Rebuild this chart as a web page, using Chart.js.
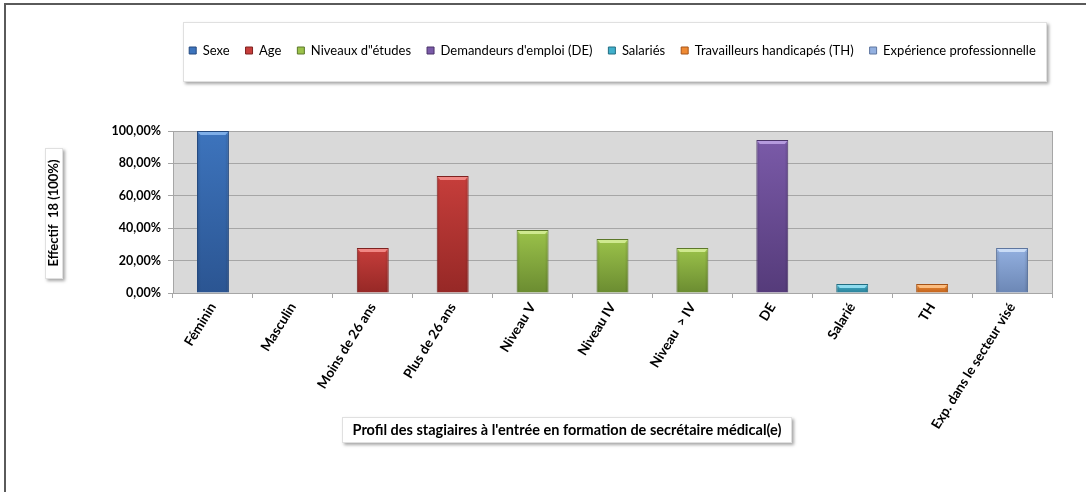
<!DOCTYPE html>
<html>
<head>
<meta charset="utf-8">
<script src="https://cdn.jsdelivr.net/npm/chart.js@4/dist/chart.umd.min.js"></script>
<style>
html,body{margin:0;padding:0;background:#fff;}
#wrap{width:1086px;height:492px;position:relative;}
</style>
</head>
<body>
<div id="wrap"><canvas id="c" width="1086" height="492"></canvas></div>
<script>
// ---- data ----
const categories = ["Féminin","Masculin","Moins de 26 ans","Plus de 26 ans","Niveau V","Niveau IV","Niveau  > IV","DE","Salarié","TH","Exp. dans le secteur visé"];
const seriesNames = ["Sexe","Age","Niveaux d\"études","Demandeurs d'emploi (DE)","Salariés","Travailleurs handicapés (TH)","Expérience professionnelle"];
const sexe       = [100, 0, null, null, null, null, null, null, null, null, null];
const age        = [null, null, 27.78, 72.22, null, null, null, null, null, null, null];
const niveaux    = [null, null, null, null, 38.89, 33.33, 27.78, null, null, null, null];
const demandeurs = [null, null, null, null, null, null, null, 94.44, null, null, null];
const salaries   = [null, null, null, null, null, null, null, null, 5.56, null, null];
const travailleurs = [null, null, null, null, null, null, null, null, null, 5.56, null];
const experience = [null, null, null, null, null, null, null, null, null, null, 27.78];
const yTicks = [0, 20, 40, 60, 80, 100];
const yTitle = "Effectif  18 (100%)";
const xTitle = "Profil des stagiaires à l'entrée en formation de secrétaire médical(e)";

// ---- styles ----
const palette = [
  {base:'#3d74bd', dark:'#2b5592', edge:'#24497e', light:'#7eaee8'},
  {base:'#c63e3b', dark:'#962826', edge:'#7e2220', light:'#f08784'},
  {base:'#9bc24a', dark:'#6b8c31', edge:'#5c782a', light:'#cfe98f'},
  {base:'#7a5aa8', dark:'#553b7a', edge:'#4a3369', light:'#b59ade'},
  {base:'#40b0cc', dark:'#2a7f96', edge:'#236e82', light:'#8fdcef'},
  {base:'#ef8a33', dark:'#c0621c', edge:'#a65418', light:'#fbbd80'},
  {base:'#93b0e0', dark:'#6c87b5', edge:'#5e769f', light:'#cadcf6'}
];
const FONT = 'Lato, "Open Sans", sans-serif';
const seriesData = [sexe, age, niveaux, demandeurs, salaries, travailleurs, experience];

function barFill(i){
  return function(ctx){
    const ch = ctx.chart, ca = ch.chartArea;
    const ys = ch.scales && ch.scales.y;
    if(!ca || !ys || ctx.raw === null || ctx.raw === undefined) return palette[i].base;
    const top = ys.getPixelForValue(ctx.raw);
    const bot = ys.getPixelForValue(0);
    if(!isFinite(top) || !isFinite(bot) || bot - top < 1) return palette[i].base;
    const g = ch.ctx.createLinearGradient(0, top, 0, bot);
    g.addColorStop(0, palette[i].base);
    g.addColorStop(1, palette[i].dark);
    return g;
  };
}

const datasets = seriesData.map((d, i) => ({
  label: seriesNames[i],
  data: d,
  backgroundColor: barFill(i),
  borderColor: palette[i].edge,
  borderWidth: 1,
  barPercentage: 0.4,
  categoryPercentage: 1.0,
  grouped: false
}));

const decor = {
  id: 'decor',
  beforeLayout(chart){
    const lg = chart.legend;
    if(lg && !lg._patched){
      const orig = lg.fit.bind(lg);
      lg.fit = function(){ orig(); this.height = 103; };
      lg._patched = true;
    }
  },
  beforeDraw(chart){
    const ctx = chart.ctx, ca = chart.chartArea;
    ctx.save();
    ctx.fillStyle = '#fff';
    ctx.fillRect(0,0,chart.width,chart.height);
    // outer frame
    ctx.strokeStyle = '#5a5a5a';
    ctx.lineWidth = 2;
    ctx.beginPath();
    ctx.moveTo(5, 492); ctx.lineTo(5, 4); ctx.lineTo(1086, 4);
    ctx.stroke();
    // boxes with shadows
    function shadowBox(x,y,w,h){
      ctx.save();
      ctx.shadowColor = 'rgba(0,0,0,0.35)';
      ctx.shadowOffsetX = 2; ctx.shadowOffsetY = 2; ctx.shadowBlur = 3;
      ctx.fillStyle = '#fff';
      ctx.fillRect(x,y,w,h);
      ctx.restore();
      ctx.strokeStyle = '#e0e0e0';
      ctx.lineWidth = 1;
      ctx.strokeRect(x+0.5,y+0.5,w-1,h-1);
    }
    shadowBox(183, 22, 864, 60);
    shadowBox(45, 148, 18, 131);
    shadowBox(342, 417, 450, 26);
    // plot background
    ctx.fillStyle = '#d9d9d9';
    ctx.fillRect(ca.left, ca.top, ca.right-ca.left, ca.bottom-ca.top);
    ctx.strokeStyle = '#a6a6a6';
    ctx.lineWidth = 1;
    ctx.beginPath();
    ctx.moveTo(Math.round(ca.right)+0.5, ca.top);
    ctx.lineTo(Math.round(ca.right)+0.5, ca.bottom+5);
    ctx.stroke();
    // titles
    ctx.fillStyle = '#000';
    ctx.textAlign = 'center';
    ctx.textBaseline = 'middle';
    ctx.font = 'bold 14.5px ' + FONT;
    ctx.fillText(xTitle, 567, 430);
    ctx.font = 'bold 13px ' + FONT;
    ctx.save();
    ctx.translate(54, 213);
    ctx.rotate(-Math.PI/2);
    ctx.fillText(yTitle, 0, 0);
    ctx.restore();
    ctx.restore();
  },
  afterDatasetsDraw(chart){
    const ctx = chart.ctx;
    ctx.save();
    chart.data.datasets.forEach((ds, i) => {
      const meta = chart.getDatasetMeta(i);
      meta.data.forEach((el, j) => {
        const v = ds.data[j];
        if(v === null || v === undefined) return;
        const p = el.getProps(['x','y','base','width'], true);
        const h = p.base - p.y;
        if(h < 2) return;
        const l = p.x - p.width/2, r = p.x + p.width/2;
        const b = Math.min(4, h/2);
        // top bevel
        ctx.fillStyle = palette[i].light;
        ctx.beginPath();
        ctx.moveTo(l+1, p.y+1); ctx.lineTo(r-1, p.y+1);
        ctx.lineTo(r-3.5, p.y+b); ctx.lineTo(l+3.5, p.y+b); ctx.closePath();
        ctx.fill();
        // side shading
        const g = ctx.createLinearGradient(l, 0, r, 0);
        g.addColorStop(0, 'rgba(0,0,0,0.15)');
        g.addColorStop(0.12, 'rgba(0,0,0,0)');
        g.addColorStop(0.88, 'rgba(0,0,0,0)');
        g.addColorStop(1, 'rgba(0,0,0,0.15)');
        ctx.fillStyle = g;
        ctx.fillRect(l+1, p.y+b, p.width-2, h-b-1);
      });
    });
    ctx.restore();
  }
};

new Chart(document.getElementById('c'), {
  type: 'bar',
  data: { labels: categories, datasets },
  options: {
    responsive: false,
    animation: false,
    devicePixelRatio: 1,
    layout: { padding: { left: 0, right: 34, top: 28, bottom: 0 } },
    plugins: {
      tooltip: { enabled: false },
      legend: {
        position: 'top',
        fullSize: false,
        labels: {
          font: { family: FONT, size: 13 },
          color: '#000',
          boxWidth: 7,
          boxHeight: 7,
          padding: 16,
          generateLabels(chart){
            return chart.data.datasets.map((ds, i) => ({
              text: ds.label,
              fillStyle: palette[i].base,
              strokeStyle: palette[i].edge,
              lineWidth: 1,
              datasetIndex: i,
              hidden: false
            }));
          }
        }
      }
    },
    scales: {
      x: {
        afterFit(s){ s.height = 199; },
        grid: { display: true, offset: true, drawOnChartArea: false, drawTicks: true, tickLength: 5, color: '#a6a6a6' },
        border: { display: true, color: '#a6a6a6' },
        ticks: {
          font: { family: FONT, size: 13.5, weight: 'bold' },
          color: '#000',
          minRotation: 58, maxRotation: 58,
          autoSkip: false,
          padding: 2
        }
      },
      y: {
        min: 0, max: 100,
        afterFit(s){ s.width = 173; },
        afterBuildTicks(s){ s.ticks = yTicks.map(v => ({value: v})); },
        grid: { color: '#a6a6a6', tickLength: 5 },
        border: { display: true, color: '#a6a6a6' },
        ticks: {
          font: { family: FONT, size: 12.5, weight: 'bold' },
          color: '#000',
          padding: 7,
          callback: v => v.toFixed(2).replace('.', ',') + '%'
        }
      }
    }
  },
  plugins: [decor]
});
</script>
</body>
</html>
